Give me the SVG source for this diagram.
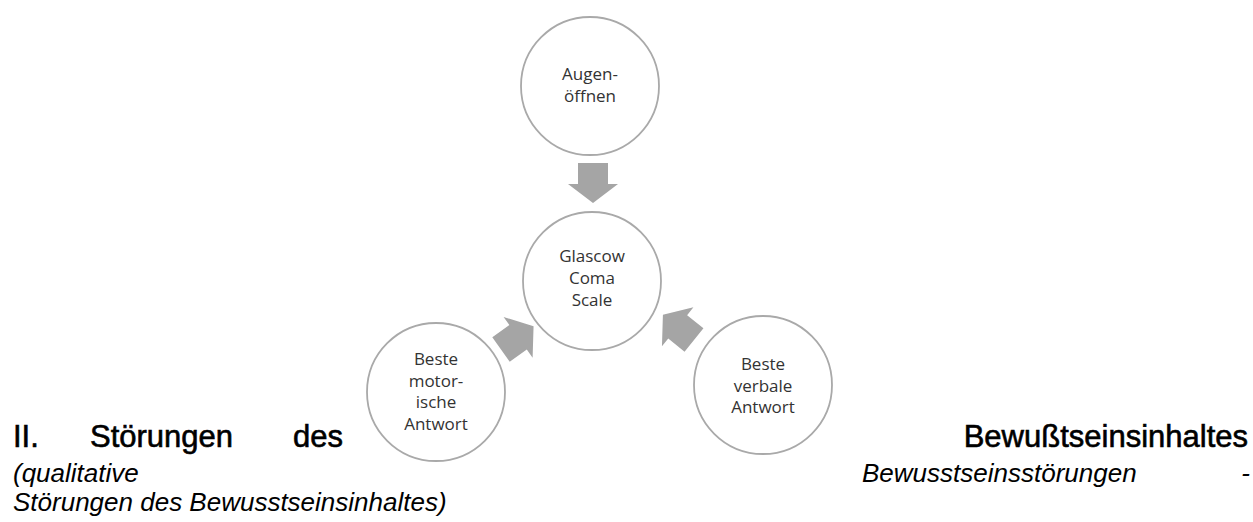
<svg xmlns="http://www.w3.org/2000/svg" width="1253" height="522" viewBox="0 0 1253 522">
<style>
.node circle{fill:#fff;stroke:#a9a9a9;stroke-width:1.8}
.node text{font-family:"Open Sans","Noto Sans",sans-serif;font-size:17px;fill:#333;text-anchor:middle}
.arrow{fill:#a5a5a5}
.h1{font-family:"Liberation Sans",Arial,sans-serif;font-size:31px;fill:#000;stroke:#000;stroke-width:0.6}
.it{font-family:"Liberation Sans",Arial,sans-serif;font-size:26px;font-style:italic;fill:#000}
</style>
<defs>
<path id="arr" d="M0,-15 H21 V-25 L40,0 L21,25 V15 H0 Z"/>
</defs>
<g id="connectors">
<use href="#arr" class="arrow" transform="translate(593,163) rotate(90)"/>
<use href="#arr" class="arrow" transform="translate(501,349.5) rotate(-35.5)"/>
<use href="#arr" class="arrow" transform="translate(694,340) rotate(-141)"/>
</g>
<g id="augen" class="node">
<circle cx="590" cy="86" r="69"/>
<text x="590" y="80">Augen-</text>
<text x="590" y="101.5">öffnen</text>
</g>
<g id="gcs" class="node">
<circle cx="592" cy="281" r="69"/>
<text x="592" y="262">Glascow</text>
<text x="592" y="284">Coma</text>
<text x="592" y="306">Scale</text>
</g>
<g id="motor" class="node">
<circle cx="436" cy="392" r="69"/>
<text x="436" y="365">Beste</text>
<text x="436" y="386.5">motor-</text>
<text x="436" y="408">ische</text>
<text x="436" y="429.5">Antwort</text>
</g>
<g id="verbal" class="node">
<circle cx="763" cy="385" r="69"/>
<text x="763" y="370">Beste</text>
<text x="763" y="391.5">verbale</text>
<text x="763" y="413">Antwort</text>
</g>
<g id="caption">
<text class="h1" x="13" y="447">II.</text>
<text class="h1" x="90" y="447">Störungen</text>
<text class="h1" x="293" y="447">des</text>
<text class="h1" x="1248" y="447" text-anchor="end">Bewußtseinsinhaltes</text>
<text class="it" x="13" y="482">(qualitative</text>
<text class="it" x="862" y="482">Bewusstseinsstörungen</text>
<text class="it" x="1250" y="482" text-anchor="end">-</text>
<text class="it" x="13" y="511">Störungen des Bewusstseinsinhaltes)</text>
</g>
</svg>
